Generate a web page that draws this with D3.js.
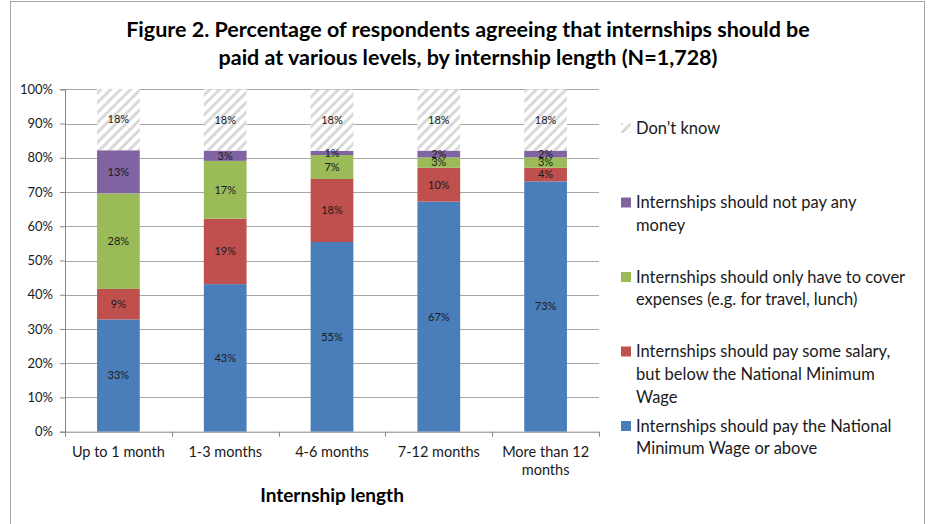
<!DOCTYPE html>
<html>
<head>
<meta charset="utf-8">
<script src="https://cdn.jsdelivr.net/npm/d3@7"></script>
<style>
  html, body { margin: 0; padding: 0; background: #fff; }
  svg { display: block; font-family: Lato, "Open Sans", sans-serif; }
</style>
</head>
<body>
<svg id="chart" width="930" height="524"></svg>
<script>
// ---- Data ----
const categories = ["Up to 1 month", "1-3 months", "4-6 months", "7-12 months", "More than 12 months"];
const nmwOrAbove = [32.8, 43.1, 55.4, 67.2, 73.1];
const belowNmw   = [8.9, 19.1, 18.4, 9.9, 4.0];
const expenses   = [27.9, 16.9, 7.0, 3.0, 3.0];
const noPay      = [12.6, 3.0, 1.2, 2.0, 2.0];
const dontKnow   = [17.9, 17.9, 17.9, 17.9, 17.9];
const yTicks = [0, 10, 20, 30, 40, 50, 60, 70, 80, 90, 100];

const seriesNames = [
  "Internships should pay the National\nMinimum Wage or above",
  "Internships should pay some salary,\nbut below the National Minimum\nWage",
  "Internships should only have to cover\nexpenses (e.g. for travel, lunch)",
  "Internships should not pay any\nmoney",
  "Don\u2019t know"
];
const seriesValues = [nmwOrAbove, belowNmw, expenses, noPay, dontKnow];
const seriesColors = ["#4a7ebb", "#c0504d", "#9bbb59", "#8064a2", "url(#hatch)"];

const titleLines = [
  "Figure 2. Percentage of respondents agreeing that internships should be",
  "paid at various levels, by internship length (N=1,728)"
];
const xTitle = "Internship length";

// ---- Layout ----
const svg = d3.select("#chart");
const plot = { left: 65, right: 599, top: 89.3, bottom: 431.7 };

// hatch pattern
const defs = svg.append("defs");
const pat = defs.append("pattern")
  .attr("id", "hatch").attr("patternUnits", "userSpaceOnUse")
  .attr("width", 7).attr("height", 7)
  .attr("patternTransform", "rotate(45)");
pat.append("rect").attr("width", 7).attr("height", 7).attr("fill", "#fff");
pat.append("rect").attr("x", 0).attr("width", 3).attr("height", 7).attr("fill", "#d9d9d9");

// outer border
svg.append("rect").attr("x", 10.5).attr("y", 1.5).attr("width", 914).attr("height", 540)
  .attr("fill", "none").attr("stroke", "#a6a6a6").attr("stroke-width", 1);

// title
svg.append("text").attr("text-anchor", "middle").attr("font-weight", "bold")
  .attr("font-size", 21.5).attr("fill", "#000")
  .selectAll("tspan").data(titleLines).join("tspan")
  .attr("x", 468).attr("y", (d, i) => 37 + i * 28).text(d => d);

// scales
const x = d3.scaleBand().domain(categories).range([plot.left, plot.right])
  .paddingInner(0.6).paddingOuter(0.3);
const y = d3.scaleLinear().domain([0, 100]).range([plot.bottom, plot.top]);

// gridlines
svg.append("g").selectAll("line").data(yTicks.filter(d => d > 0)).join("line")
  .attr("x1", plot.left).attr("x2", plot.right)
  .attr("y1", d => Math.round(y(d)) + 0.5).attr("y2", d => Math.round(y(d)) + 0.5)
  .attr("stroke", "#a6a6a6").attr("stroke-width", 1);

// stacked data
const rows = categories.map((c, i) => {
  const r = { cat: c };
  seriesValues.forEach((s, k) => r["s" + k] = s[i]);
  return r;
});
const keys = seriesValues.map((s, k) => "s" + k);
const stacked = d3.stack().keys(keys)(rows);

const layers = svg.append("g").selectAll("g").data(stacked).join("g")
  .attr("fill", (d, k) => seriesColors[k]);
layers.selectAll("rect").data(d => d).join("rect")
  .attr("x", d => x(d.data.cat))
  .attr("width", x.bandwidth())
  .attr("y", d => y(d[1]))
  .attr("height", d => y(d[0]) - y(d[1]));

// data labels
const labelG = svg.append("g").attr("font-size", 11).attr("fill", "#1a1a1a").attr("text-anchor", "middle");
stacked.forEach((layer, k) => {
  labelG.selectAll(null).data(layer).join("text")
    .attr("x", d => x(d.data.cat) + x.bandwidth() / 2)
    .attr("y", d => (y(d[0]) + y(d[1])) / 2)
    .attr("dy", "0.35em")
    .text(d => Math.round(d[1] - d[0]) + "%");
});

// y axis
const yAxis = svg.append("g").attr("transform", `translate(${plot.left},0)`)
  .call(d3.axisLeft(y).tickValues(yTicks).tickFormat(d => d + "%").tickSize(5).tickPadding(7));
yAxis.select(".domain").attr("stroke", "#868686");
yAxis.selectAll(".tick line").attr("stroke", "#868686");
yAxis.selectAll(".tick text").attr("font-size", 13).attr("fill", "#1a1a1a").attr("font-family", "Lato, sans-serif");

// x axis
const xAxis = svg.append("g").attr("transform", `translate(0,${plot.bottom})`)
  .call(d3.axisBottom(x).tickSize(0).tickPadding(0).tickFormat(""));
xAxis.select(".domain").attr("stroke", "#868686");
const bounds = x.domain().map(c => x(c) - x.step() * x.paddingInner() / 2);
bounds.push(plot.right);
bounds[0] = plot.left;
xAxis.selectAll(".bt").data(bounds).join("line").attr("class", "bt")
  .attr("x1", d => Math.round(d) + 0.5).attr("x2", d => Math.round(d) + 0.5)
  .attr("y1", 0).attr("y2", 5).attr("stroke", "#868686");

// category labels with wrapping
const catG = svg.append("g").attr("font-size", 14.5).attr("fill", "#1a1a1a").attr("text-anchor", "middle");
categories.forEach(c => {
  const t = catG.append("text").attr("x", x(c) + x.bandwidth() / 2).attr("y", 457);
  const words = c.split(" ");
  let line = [], lineNo = 0;
  let ts = t.append("tspan").attr("x", x(c) + x.bandwidth() / 2).attr("y", 457);
  words.forEach(w => {
    line.push(w);
    ts.text(line.join(" "));
    if (ts.node().getComputedTextLength() > 102 && line.length > 1) {
      line.pop();
      ts.text(line.join(" "));
      line = [w];
      lineNo++;
      ts = t.append("tspan").attr("x", x(c) + x.bandwidth() / 2).attr("y", 457 + lineNo * 18).text(w);
    }
  });
});

// x axis title
svg.append("text").attr("x", (plot.left + plot.right) / 2).attr("y", 502)
  .attr("text-anchor", "middle").attr("font-weight", "bold").attr("font-size", 19)
  .attr("fill", "#000").text(xTitle);

// legend (top to bottom: reversed series order)
const legendOrder = [4, 3, 2, 1, 0];
const legG = svg.append("g");
legendOrder.forEach((k, i) => {
  const cy = 128 + i * 74.5;
  legG.append("rect").attr("x", 621).attr("y", cy - 5).attr("width", 10).attr("height", 10)
    .attr("fill", seriesColors[k]);
  const t = legG.append("text").attr("font-size", 16.5).attr("fill", "#1a1a1a");
  seriesNames[k].split("\n").forEach((ln, j) => {
    t.append("tspan").attr("x", 636).attr("y", cy + j * 22.7).attr("dy", "0.35em").text(ln);
  });
});
</script>
</body>
</html>
